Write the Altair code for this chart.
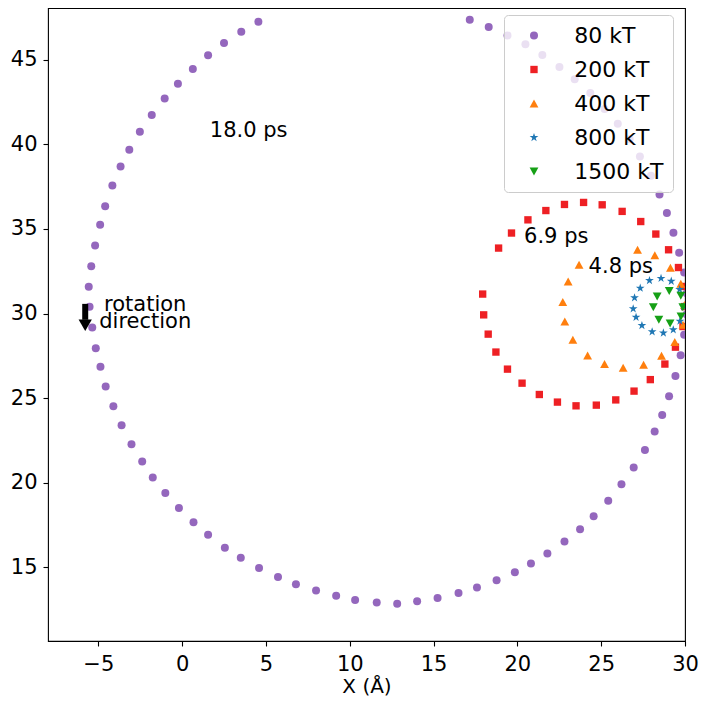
import altair as alt
import pandas as pd

# ---- series definitions ----
series = ["80 kT", "200 kT", "400 kT", "800 kT", "1500 kT"]
colors = ["#9467bd", "#ee2024", "#ff7f0e", "#1f77b4", "#16a016"]
# marker shapes (unit paths, scaled by the mark size)
square_path = "M-0.92,-0.92L0.92,-0.92L0.92,0.92L-0.92,0.92Z"
tri_up_path = "M0,-1.02L1.1,0.98L-1.1,0.98Z"
tri_down_path = "M0,1.02L1.1,-0.98L-1.1,-0.98Z"
star_path = ("M0,-1.15L0.258,-0.355L1.094,-0.355L0.418,0.136L0.676,0.930"
             "L0,0.439L-0.676,0.930L-0.418,0.136L-1.094,-0.355L-0.258,-0.355Z")
shapes = ["circle", square_path, tri_up_path, star_path, tri_down_path]
MARK_SIZE = 64

# ---- data ----
x80 = [4.55, 3.53, 2.50, 1.55, 0.64, -0.25, -1.04, -1.81, -2.52, -3.15, -3.67, -4.16, -4.59, -4.89, -5.19, -5.42, -5.57, -5.52, -5.36, -5.15,
       -4.87, -4.56, -4.10, -3.61, -3.02, -2.38, -1.75, -1.00, -0.19, 0.68, 1.55, 2.55, 3.50, 4.59, 5.72, 6.79, 7.99, 9.19, 10.32,
       11.61, 12.83, 14.02, 15.24, 16.49, 17.59, 18.76, 19.85, 20.81, 21.79, 22.81, 23.74, 24.55, 25.42, 26.21, 26.94, 27.61, 28.19, 28.64, 29.05, 29.43,
       29.74, 29.95, 30.10, 30.10, 29.95, 29.65, 29.31, 28.92, 28.48, 27.97, 27.31, 26.70, 25.99, 25.20, 24.35, 23.42, 22.51, 21.49, 20.48, 19.41, 18.29, 17.16]
y80 = [47.26, 46.67, 46.00, 45.27, 44.46, 43.59, 42.72, 41.74, 40.75, 39.69, 38.70, 37.57, 36.35, 35.25, 34.02, 32.80, 31.58, 30.40, 29.17, 27.95,
       26.85, 25.68, 24.52, 23.39, 22.27, 21.24, 20.30, 19.39, 18.49, 17.66, 16.91, 16.15, 15.56, 14.95, 14.42, 13.99, 13.61, 13.30, 13.06,
       12.90, 12.84, 12.98, 13.18, 13.47, 13.79, 14.22, 14.70, 15.21, 15.80, 16.51, 17.24, 18.01, 18.92, 19.90, 20.89, 21.92, 23.02, 23.99, 25.11, 26.30,
       27.53, 28.74, 29.95, 31.20, 32.42, 33.60, 34.78, 35.94, 37.04, 38.15, 39.29, 40.30, 41.22, 42.09, 43.04, 43.85, 44.58, 45.29, 45.92, 46.45, 46.95, 47.38]

x200 = [18.88, 19.65, 20.63, 21.70, 22.81, 23.95, 25.06, 26.25, 27.36, 28.26, 29.02, 29.61, 29.88, 29.98, 29.88,
        29.43, 28.80, 27.93, 26.96, 25.87, 24.71, 23.50, 22.39, 21.31, 20.28, 19.41, 18.72, 18.26, 17.99, 17.93]
y200 = [33.87, 34.76, 35.54, 36.09, 36.45, 36.57, 36.43, 36.04, 35.44, 34.70, 33.77, 32.72, 31.60, 30.41, 29.23,
        28.01, 27.01, 26.09, 25.41, 24.89, 24.58, 24.54, 24.76, 25.21, 25.88, 26.71, 27.72, 28.78, 29.92, 31.15]

x400 = [23.68, 23.03, 22.71, 22.83, 23.31, 24.19, 25.20, 26.31, 27.53, 28.60, 29.39, 29.88, 29.97, 29.75, 29.13, 28.20, 27.17]
y400 = [32.88, 31.89, 30.67, 29.53, 28.44, 27.51, 27.01, 26.79, 26.96, 27.50, 28.31, 29.33, 30.50, 31.76, 32.70, 33.44, 33.77]

x800 = [27.88, 28.57, 29.18, 27.33, 26.99, 26.91, 27.08, 27.43, 28.04, 28.71, 29.30, 29.70, 29.92, 29.68]
y800 = [31.95, 32.08, 31.91, 31.50, 30.93, 30.28, 29.78, 29.29, 28.92, 28.85, 29.04, 29.55, 30.40, 31.42]

x1500 = [28.34, 29.06, 28.11, 28.44, 29.11, 29.76, 29.75, 29.87]
y1500 = [31.01, 31.34, 30.37, 29.63, 29.42, 29.83, 31.05, 30.38]

# annotation texts
ann_text = ["18.0 ps", "6.9 ps", "4.8 ps"]
ann_x = [1.65, 20.40, 24.25]
ann_y = [40.45, 34.17, 32.39]

rot_text = ["rotation", "direction"]
rot_x = [-2.20, -2.20]
rot_y = [30.12, 29.14]

# arrow (shaft + head)
arrow_x = [-5.78]
arrow_y_top = [30.57]
arrow_y_bot = [29.63]
head_y = [29.30]

x_ticks = [-5, 0, 5, 10, 15, 20, 25, 30]
y_ticks = [15, 20, 25, 30, 35, 40, 45]

FONT = "DejaVu Sans"

# ---- build tables ----
rows = []
for name, xs, ys in zip(series, [x80, x200, x400, x800, x1500], [y80, y200, y400, y800, y1500]):
    for a, b in zip(xs, ys):
        rows.append({"x": a, "y": b, "series": name})
df = pd.DataFrame(rows)
df["order"] = range(len(df))

ann_df = pd.DataFrame({"x": ann_x, "y": ann_y, "text": ann_text})
rot_df = pd.DataFrame({"x": rot_x, "y": rot_y, "text": rot_text})
arrow_df = pd.DataFrame({"x": arrow_x, "y": arrow_y_top, "y2": arrow_y_bot, "hy": head_y})

xscale = alt.Scale(domain=[-8, 30], nice=False, zero=False)
yscale = alt.Scale(domain=[10.63, 48.07], nice=False, zero=False)
XT = "X (Å)"
YT = ""

legend = alt.Legend(
    orient="none", legendX=456, legendY=7, title=None,
    labelFontSize=22, labelFont=FONT, labelColor="black",
    symbolSize=MARK_SIZE, symbolOffset=9.5, labelOffset=29.2,
    rowPadding=12.0, padding=9.5, symbolStrokeWidth=0,
    fillColor="rgba(255,255,255,0.8)", strokeColor="#cccccc", cornerRadius=4,
)

points = alt.Chart(df).mark_point(filled=True, opacity=1, size=MARK_SIZE, clip=True).encode(
    x=alt.X("x:Q", scale=xscale, title=XT,
            axis=alt.Axis(values=x_ticks, labelPadding=7, titlePadding=2, labelFlush=False)),
    y=alt.Y("y:Q", scale=yscale, title=YT,
            axis=alt.Axis(values=y_ticks, labelPadding=6, labelFlush=False)),
    color=alt.Color("series:N", scale=alt.Scale(domain=series, range=colors), legend=legend),
    shape=alt.Shape("series:N", scale=alt.Scale(domain=series, range=shapes), legend=legend),
    order=alt.Order("order:Q"),
)

texts = alt.Chart(ann_df).mark_text(align="left", baseline="alphabetic", fontSize=21,
                                    font=FONT, color="black").encode(
    x=alt.X("x:Q", scale=xscale, title=XT),
    y=alt.Y("y:Q", scale=yscale, title=YT),
    text="text:N",
)

rot = alt.Chart(rot_df).mark_text(align="center", baseline="alphabetic", fontSize=21,
                                  font=FONT, color="black").encode(
    x=alt.X("x:Q", scale=xscale, title=XT),
    y=alt.Y("y:Q", scale=yscale, title=YT),
    text="text:N",
)

shaft = alt.Chart(arrow_df).mark_rule(color="black", strokeWidth=6).encode(
    x=alt.X("x:Q", scale=xscale, title=XT),
    y=alt.Y("y:Q", scale=yscale, title=YT),
    y2="y2:Q",
)

head = alt.Chart(arrow_df).mark_point(shape="triangle-down", filled=True, opacity=1,
                                      size=177, color="black").encode(
    x=alt.X("x:Q", scale=xscale, title=XT),
    y=alt.Y("hy:Q", scale=yscale, title=YT),
)

chart = alt.layer(points, texts, rot, shaft, head).properties(
    width=637, height=633,
    autosize=alt.AutoSizeParams(type="none"),
    padding={"left": 40, "top": 0, "right": 14, "bottom": 56},
).configure_view(
    stroke="black", strokeWidth=1.1,
).configure_axis(
    grid=False, domain=False,
    labelFont=FONT, labelFontSize=21, labelColor="black",
    titleFont=FONT, titleFontSize=20, titleFontWeight="normal", titleColor="black",
    tickColor="black", tickSize=5, tickWidth=1.1,
)

chart.save("out.html", embed_options={"renderer": "svg", "actions": False})
